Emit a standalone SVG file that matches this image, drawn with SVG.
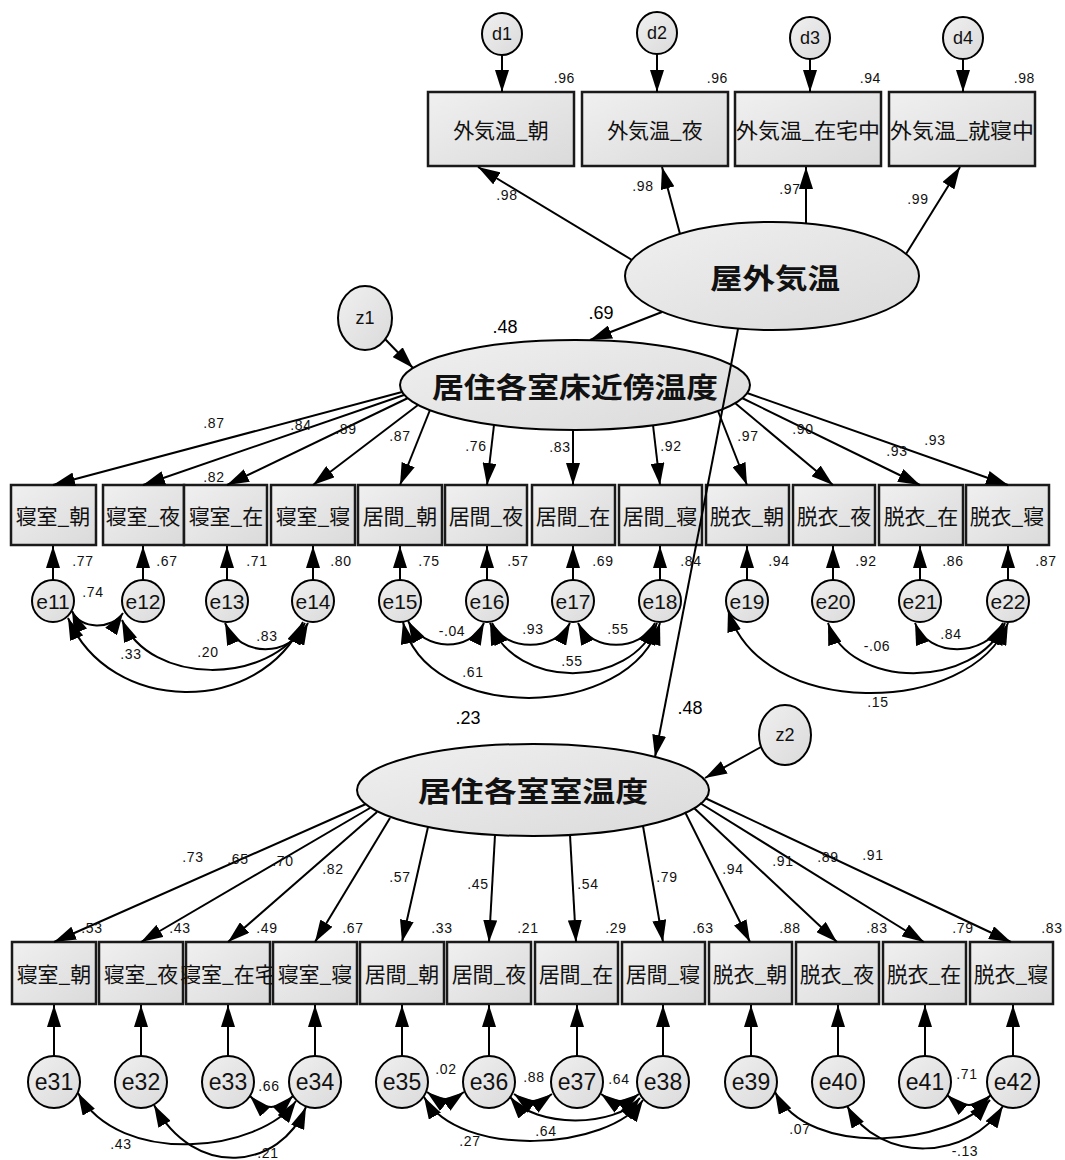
<svg xmlns="http://www.w3.org/2000/svg" width="1065" height="1160" viewBox="0 0 1065 1160">
<defs>
<linearGradient id="gf" x1="0" y1="0" x2="1" y2="1">
<stop offset="0" stop-color="#f0f0f0"/><stop offset="1" stop-color="#dadada"/>
</linearGradient>
<marker id="ah" viewBox="0 0 22 14" refX="22" refY="7" markerWidth="22" markerHeight="14" markerUnits="userSpaceOnUse" orient="auto-start-reverse">
<path d="M0,0 L22,7 L0,14 z" fill="#000"/>
</marker>
<style>
.box{fill:url(#gf);stroke:#1a1a1a;stroke-width:2.5}
.lat{fill:url(#gf);stroke:#000;stroke-width:2}
.err{fill:url(#gf);stroke:#000;stroke-width:2}
.jp{font-family:"Noto Sans CJK JP","Noto Sans CJK SC",sans-serif;fill:#111;text-anchor:middle;dominant-baseline:central;font-size:21px}
.lt{font-size:28px;font-weight:bold}
.en{font-family:"Liberation Sans",Arial,sans-serif;fill:#111;text-anchor:middle;dominant-baseline:central;font-size:18px}
.em{font-size:21px}
.eb{font-size:23px}
.v{font-family:"Liberation Sans",Arial,sans-serif;font-size:14px;letter-spacing:0.6px;fill:#111;text-anchor:middle}
.ve{text-anchor:end}
.vb{font-family:"Liberation Sans",Arial,sans-serif;font-size:18px;fill:#000;text-anchor:middle}
.c{fill:none;stroke:#000;stroke-width:2;marker-end:url(#ah)}
.d{fill:none;stroke:#000;stroke-width:2;marker-start:url(#ah);marker-end:url(#ah)}
</style>
</defs>
<rect width="1065" height="1160" fill="#fff"/>

<!-- top disturbances -->
<g id="d1"><ellipse class="err" cx="502" cy="34" rx="20" ry="21"/><text class="en" x="502" y="34">d1</text></g>
<g id="d2"><ellipse class="err" cx="657" cy="33" rx="20" ry="21"/><text class="en" x="657" y="33">d2</text></g>
<g id="d3"><ellipse class="err" cx="810" cy="38" rx="20" ry="21"/><text class="en" x="810" y="38">d3</text></g>
<g id="d4"><ellipse class="err" cx="963" cy="38" rx="20" ry="21"/><text class="en" x="963" y="38">d4</text></g>

<!-- top observed -->
<g id="o-gaiki-asa"><rect class="box" x="428" y="92" width="146" height="74"/><text class="jp" x="501" y="129">外気温_朝</text></g>
<g id="o-gaiki-yoru"><rect class="box" x="582" y="92" width="146" height="74"/><text class="jp" x="655" y="129">外気温_夜</text></g>
<g id="o-gaiki-zaitaku"><rect class="box" x="735" y="92" width="146" height="74"/><text class="jp" x="808" y="129" textLength="144" lengthAdjust="spacingAndGlyphs">外気温_在宅中</text></g>
<g id="o-gaiki-shushin"><rect class="box" x="889" y="92" width="146" height="74"/><text class="jp" x="962" y="129" textLength="144" lengthAdjust="spacingAndGlyphs">外気温_就寝中</text></g>

<!-- latent -->
<g id="l-okugai"><ellipse class="lat" cx="772" cy="276" rx="147" ry="54"/><text class="jp lt" x="775" y="277" textLength="130" lengthAdjust="spacingAndGlyphs">屋外気温</text></g>
<g id="z1"><ellipse class="err" cx="365" cy="318" rx="27" ry="32"/><text class="en" x="365" y="318">z1</text></g>
<g id="l-yuka"><ellipse class="lat" cx="575" cy="385" rx="175" ry="45"/><text class="jp lt" x="575" y="386" textLength="286" lengthAdjust="spacingAndGlyphs">居住各室床近傍温度</text></g>
<g id="z2"><ellipse class="err" cx="785" cy="735" rx="26" ry="30"/><text class="en" x="785" y="735">z2</text></g>
<g id="l-shitsuon"><ellipse class="lat" cx="533" cy="790" rx="176" ry="46"/><text class="jp lt" x="533" y="790" textLength="230" lengthAdjust="spacingAndGlyphs">居住各室室温度</text></g>

<!-- middle observed -->
<g id="m1"><rect class="box" x="11" y="485" width="85" height="60"/><text class="jp" x="53" y="515">寝室_朝</text></g>
<g id="m2"><rect class="box" x="103" y="485" width="81" height="60"/><text class="jp" x="143" y="515">寝室_夜</text></g>
<g id="m3"><rect class="box" x="184" y="485" width="83" height="60"/><text class="jp" x="226" y="515">寝室_在</text></g>
<g id="m4"><rect class="box" x="271" y="485" width="84" height="60"/><text class="jp" x="313" y="515">寝室_寝</text></g>
<g id="m5"><rect class="box" x="358" y="485" width="84" height="60"/><text class="jp" x="400" y="515">居間_朝</text></g>
<g id="m6"><rect class="box" x="445" y="485" width="82" height="60"/><text class="jp" x="486" y="515">居間_夜</text></g>
<g id="m7"><rect class="box" x="532" y="485" width="83" height="60"/><text class="jp" x="573" y="515">居間_在</text></g>
<g id="m8"><rect class="box" x="619" y="485" width="83" height="60"/><text class="jp" x="660" y="515">居間_寝</text></g>
<g id="m9"><rect class="box" x="706" y="485" width="83" height="60"/><text class="jp" x="747" y="515">脱衣_朝</text></g>
<g id="m10"><rect class="box" x="793" y="485" width="82" height="60"/><text class="jp" x="834" y="515">脱衣_夜</text></g>
<g id="m11"><rect class="box" x="879" y="485" width="84" height="60"/><text class="jp" x="921" y="515">脱衣_在</text></g>
<g id="m12"><rect class="box" x="966" y="485" width="83" height="60"/><text class="jp" x="1007" y="515">脱衣_寝</text></g>

<!-- middle errors -->
<g id="e11"><circle class="err" cx="53" cy="601" r="21"/><text class="en em" x="53" y="601">e11</text></g>
<g id="e12"><circle class="err" cx="143" cy="601" r="21"/><text class="en em" x="143" y="601">e12</text></g>
<g id="e13"><circle class="err" cx="227" cy="601" r="21"/><text class="en em" x="227" y="601">e13</text></g>
<g id="e14"><circle class="err" cx="313" cy="601" r="21"/><text class="en em" x="313" y="601">e14</text></g>
<g id="e15"><circle class="err" cx="400" cy="601" r="21"/><text class="en em" x="400" y="601">e15</text></g>
<g id="e16"><circle class="err" cx="487" cy="601" r="21"/><text class="en em" x="487" y="601">e16</text></g>
<g id="e17"><circle class="err" cx="573" cy="601" r="21"/><text class="en em" x="573" y="601">e17</text></g>
<g id="e18"><circle class="err" cx="660" cy="601" r="21"/><text class="en em" x="660" y="601">e18</text></g>
<g id="e19"><circle class="err" cx="747" cy="601" r="21"/><text class="en em" x="747" y="601">e19</text></g>
<g id="e20"><circle class="err" cx="833" cy="601" r="21"/><text class="en em" x="833" y="601">e20</text></g>
<g id="e21"><circle class="err" cx="920" cy="601" r="21"/><text class="en em" x="920" y="601">e21</text></g>
<g id="e22"><circle class="err" cx="1008" cy="601" r="21"/><text class="en em" x="1008" y="601">e22</text></g>

<!-- bottom observed -->
<g id="b1"><rect class="box" x="12" y="942" width="84" height="62"/><text class="jp" x="54" y="973">寝室_朝</text></g>
<g id="b2"><rect class="box" x="99" y="942" width="84" height="62"/><text class="jp" x="141" y="973">寝室_夜</text></g>
<g id="b3"><rect class="box" x="186" y="942" width="84" height="62"/><text class="jp" x="228" y="973">寝室_在宅</text></g>
<g id="b4"><rect class="box" x="273" y="942" width="84" height="62"/><text class="jp" x="315" y="973">寝室_寝</text></g>
<g id="b5"><rect class="box" x="360" y="942" width="84" height="62"/><text class="jp" x="402" y="973">居間_朝</text></g>
<g id="b6"><rect class="box" x="447" y="942" width="84" height="62"/><text class="jp" x="489" y="973">居間_夜</text></g>
<g id="b7"><rect class="box" x="535" y="942" width="83" height="62"/><text class="jp" x="576" y="973">居間_在</text></g>
<g id="b8"><rect class="box" x="622" y="942" width="83" height="62"/><text class="jp" x="663" y="973">居間_寝</text></g>
<g id="b9"><rect class="box" x="709" y="942" width="83" height="62"/><text class="jp" x="750" y="973">脱衣_朝</text></g>
<g id="b10"><rect class="box" x="796" y="942" width="83" height="62"/><text class="jp" x="837" y="973">脱衣_夜</text></g>
<g id="b11"><rect class="box" x="883" y="942" width="83" height="62"/><text class="jp" x="924" y="973">脱衣_在</text></g>
<g id="b12"><rect class="box" x="970" y="942" width="83" height="62"/><text class="jp" x="1011" y="973">脱衣_寝</text></g>

<!-- bottom errors -->
<g id="e31"><circle class="err" cx="54" cy="1082" r="26"/><text class="en eb" x="54" y="1082">e31</text></g>
<g id="e32"><circle class="err" cx="141" cy="1082" r="26"/><text class="en eb" x="141" y="1082">e32</text></g>
<g id="e33"><circle class="err" cx="228" cy="1082" r="26"/><text class="en eb" x="228" y="1082">e33</text></g>
<g id="e34"><circle class="err" cx="315" cy="1082" r="26"/><text class="en eb" x="315" y="1082">e34</text></g>
<g id="e35"><circle class="err" cx="402" cy="1082" r="26"/><text class="en eb" x="402" y="1082">e35</text></g>
<g id="e36"><circle class="err" cx="489" cy="1082" r="26"/><text class="en eb" x="489" y="1082">e36</text></g>
<g id="e37"><circle class="err" cx="577" cy="1082" r="26"/><text class="en eb" x="577" y="1082">e37</text></g>
<g id="e38"><circle class="err" cx="663" cy="1082" r="26"/><text class="en eb" x="663" y="1082">e38</text></g>
<g id="e39"><circle class="err" cx="751" cy="1082" r="26"/><text class="en eb" x="751" y="1082">e39</text></g>
<g id="e40"><circle class="err" cx="838" cy="1082" r="26"/><text class="en eb" x="838" y="1082">e40</text></g>
<g id="e41"><circle class="err" cx="925" cy="1082" r="26"/><text class="en eb" x="925" y="1082">e41</text></g>
<g id="e42"><circle class="err" cx="1013" cy="1082" r="26"/><text class="en eb" x="1013" y="1082">e42</text></g>

<!-- connectors -->
<g id="connectors">
<path class="c" d="M502,55 L502,92"/>
<path class="c" d="M657,54 L657,92"/>
<path class="c" d="M810,59 L810,92"/>
<path class="c" d="M963,59 L963,92"/>
<path class="c" d="M632,260 L478,167"/>
<path class="c" d="M680,234 L662,167"/>
<path class="c" d="M806,223 L806,167"/>
<path class="c" d="M906,254 L960,167"/>
<path class="c" d="M385,339 L413,368"/>
<path class="c" d="M662,312 L590,340"/>
<path class="c" d="M738,329 L655,757"/>
<path class="c" d="M761,747 L705,778"/>

<path class="c" d="M402,392 L53,485"/>
<path class="c" d="M404,395 L143,485"/>
<path class="c" d="M408,398 L227,485"/>
<path class="c" d="M418,405 L313,485"/>
<path class="c" d="M430,410 L400,485"/>
<path class="c" d="M494,425 L487,485"/>
<path class="c" d="M573,430 L573,485"/>
<path class="c" d="M653,425 L660,485"/>
<path class="c" d="M718,411 L747,485"/>
<path class="c" d="M735,403 L833,485"/>
<path class="c" d="M742,398 L920,485"/>
<path class="c" d="M747,393 L1008,485"/>

<path class="c" d="M53,580 L53,546"/>
<path class="c" d="M143,580 L143,546"/>
<path class="c" d="M227,580 L227,546"/>
<path class="c" d="M313,580 L313,546"/>
<path class="c" d="M400,580 L400,546"/>
<path class="c" d="M487,580 L487,546"/>
<path class="c" d="M573,580 L573,546"/>
<path class="c" d="M660,580 L660,546"/>
<path class="c" d="M747,580 L747,546"/>
<path class="c" d="M833,580 L833,546"/>
<path class="c" d="M920,580 L920,546"/>
<path class="c" d="M1008,580 L1008,546"/>

<path class="d" d="M72,611 C80,630 112,630 123,613"/>
<path class="d" d="M68,618 C110,716 260,716 303,622"/>
<path class="d" d="M122,620 C150,686 270,686 305,623"/>
<path class="d" d="M225,623 C240,658 290,658 308,623"/>
<path class="d" d="M408,621 C425,652 470,652 484,623"/>
<path class="d" d="M492,623 C505,652 555,652 570,623"/>
<path class="d" d="M578,623 C592,652 640,652 655,623"/>
<path class="d" d="M490,623 C515,690 630,690 657,623"/>
<path class="d" d="M403,622 C425,723 630,723 660,623"/>
<path class="d" d="M915,623 C928,658 985,658 1003,623"/>
<path class="d" d="M828,623 C850,690 975,690 1005,623"/>
<path class="d" d="M728,610 C760,720 970,717 1008,623"/>

<path class="c" d="M366,804 L54,942"/>
<path class="c" d="M370,808 L141,942"/>
<path class="c" d="M377,812 L228,942"/>
<path class="c" d="M390,818 L315,942"/>
<path class="c" d="M428,827 L402,942"/>
<path class="c" d="M495,835 L489,942"/>
<path class="c" d="M570,835 L576,942"/>
<path class="c" d="M643,826 L663,942"/>
<path class="c" d="M685,812 L750,942"/>
<path class="c" d="M694,808 L837,942"/>
<path class="c" d="M700,803 L924,942"/>
<path class="c" d="M705,798 L1011,942"/>

<path class="c" d="M54,1056 L54,1005"/>
<path class="c" d="M141,1056 L141,1005"/>
<path class="c" d="M228,1056 L228,1005"/>
<path class="c" d="M315,1056 L315,1005"/>
<path class="c" d="M402,1056 L402,1005"/>
<path class="c" d="M489,1056 L489,1005"/>
<path class="c" d="M577,1056 L577,1005"/>
<path class="c" d="M663,1056 L663,1005"/>
<path class="c" d="M751,1056 L751,1005"/>
<path class="c" d="M838,1056 L838,1005"/>
<path class="c" d="M925,1056 L925,1005"/>
<path class="c" d="M1013,1056 L1013,1005"/>

<path class="d" d="M250,1096 Q271,1118 293,1096"/>
<path class="d" d="M78,1093 C120,1168 260,1152 296,1101"/>
<path class="d" d="M154,1105 C195,1180 280,1170 306,1107"/>
<path class="d" d="M427,1092 Q445,1106 464,1092"/>
<path class="d" d="M514,1094 Q533,1108 552,1094"/>
<path class="d" d="M601,1094 Q620,1108 639,1094"/>
<path class="d" d="M510,1097 C535,1128 615,1128 640,1098"/>
<path class="d" d="M424,1097 C460,1160 610,1150 643,1100"/>
<path class="d" d="M947,1095 Q969,1115 991,1095"/>
<path class="d" d="M775,1092 C810,1160 950,1145 990,1100"/>
<path class="d" d="M847,1106 C880,1165 970,1160 1003,1106"/>
</g>

<!-- value labels -->
<g id="labels">
<text class="v ve" x="575" y="83">.96</text>
<text class="v ve" x="728" y="83">.96</text>
<text class="v ve" x="881" y="83">.94</text>
<text class="v ve" x="1035" y="83">.98</text>
<text class="v" x="507" y="200">.98</text>
<text class="v" x="643" y="191">.98</text>
<text class="v" x="790" y="194">.97</text>
<text class="v" x="918" y="204">.99</text>
<text class="vb" x="505" y="333">.48</text>
<text class="vb" x="601" y="319">.69</text>
<text class="vb" x="468" y="724">.23</text>
<text class="vb" x="690" y="714">.48</text>

<text class="v" x="214" y="428">.87</text>
<text class="v" x="301" y="430">.84</text>
<text class="v" x="346" y="434">.89</text>
<text class="v" x="214" y="482">.82</text>
<text class="v" x="400" y="441">.87</text>
<text class="v" x="476" y="451">.76</text>
<text class="v" x="560" y="452">.83</text>
<text class="v" x="671" y="451">.92</text>
<text class="v" x="748" y="441">.97</text>
<text class="v" x="803" y="434">.90</text>
<text class="v" x="897" y="456">.93</text>
<text class="v" x="935" y="445">.93</text>

<text class="v" x="83" y="566">.77</text>
<text class="v" x="167" y="566">.67</text>
<text class="v" x="257" y="566">.71</text>
<text class="v" x="341" y="566">.80</text>
<text class="v" x="429" y="566">.75</text>
<text class="v" x="518" y="566">.57</text>
<text class="v" x="603" y="566">.69</text>
<text class="v" x="691" y="566">.84</text>
<text class="v" x="779" y="566">.94</text>
<text class="v" x="866" y="566">.92</text>
<text class="v" x="953" y="566">.86</text>
<text class="v" x="1046" y="566">.87</text>

<text class="v" x="93" y="597">.74</text>
<text class="v" x="131" y="659">.33</text>
<text class="v" x="208" y="657">.20</text>
<text class="v" x="267" y="641">.83</text>
<text class="v" x="452" y="636">-.04</text>
<text class="v" x="533" y="634">.93</text>
<text class="v" x="618" y="634">.55</text>
<text class="v" x="572" y="666">.55</text>
<text class="v" x="473" y="677">.61</text>
<text class="v" x="951" y="639">.84</text>
<text class="v" x="877" y="651">-.06</text>
<text class="v" x="878" y="707">.15</text>

<text class="v" x="193" y="862">.73</text>
<text class="v" x="238" y="864">.65</text>
<text class="v" x="283" y="866">.70</text>
<text class="v" x="333" y="874">.82</text>
<text class="v" x="400" y="882">.57</text>
<text class="v" x="478" y="889">.45</text>
<text class="v" x="588" y="889">.54</text>
<text class="v" x="667" y="882">.79</text>
<text class="v" x="733" y="874">.94</text>
<text class="v" x="783" y="866">.91</text>
<text class="v" x="828" y="862">.89</text>
<text class="v" x="873" y="860">.91</text>

<text class="v" x="92" y="933">.53</text>
<text class="v" x="180" y="933">.43</text>
<text class="v" x="267" y="933">.49</text>
<text class="v" x="353" y="933">.67</text>
<text class="v" x="442" y="933">.33</text>
<text class="v" x="528" y="933">.21</text>
<text class="v" x="616" y="933">.29</text>
<text class="v" x="703" y="933">.63</text>
<text class="v" x="790" y="933">.88</text>
<text class="v" x="877" y="933">.83</text>
<text class="v" x="963" y="933">.79</text>
<text class="v" x="1052" y="933">.83</text>

<text class="v" x="269" y="1091">.66</text>
<text class="v" x="121" y="1149">.43</text>
<text class="v" x="268" y="1158">.21</text>
<text class="v" x="446" y="1074">.02</text>
<text class="v" x="534" y="1082">.88</text>
<text class="v" x="619" y="1084">.64</text>
<text class="v" x="546" y="1136">.64</text>
<text class="v" x="470" y="1146">.27</text>
<text class="v" x="967" y="1079">.71</text>
<text class="v" x="800" y="1134">.07</text>
<text class="v" x="965" y="1156">-.13</text>
</g>
</svg>
